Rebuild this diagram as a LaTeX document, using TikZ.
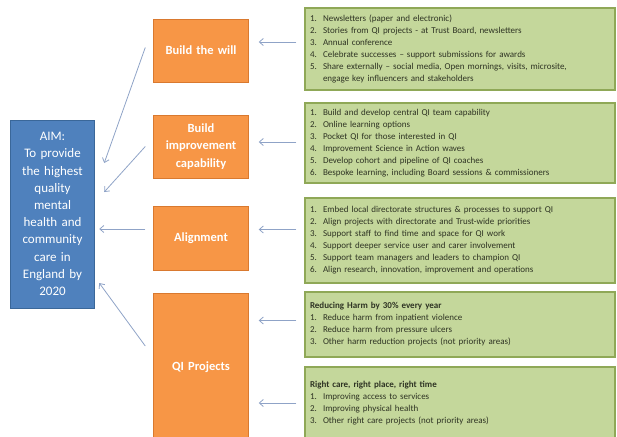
\documentclass[tikz,border=0pt]{standalone}
\usepackage{fontspec}
\setmainfont{Carlito}
\usepackage{tikz}
\usetikzlibrary{arrows.meta,calc}

\definecolor{aimblue}{HTML}{4F81BD}
\definecolor{aimline}{HTML}{3A6799}
\definecolor{drvorange}{HTML}{F79646}
\definecolor{drvline}{HTML}{D9792F}
\definecolor{actgreen}{HTML}{C4D79B}
\definecolor{actline}{HTML}{8FA857}
\definecolor{edgeblue}{HTML}{8FA3C7}
\definecolor{acttext}{HTML}{2E3323}

\begin{document}
\begin{tikzpicture}[x=1pt,y=-1pt]
        \tikzset{aim/.style = {shape=rectangle,draw=aimline,fill=aimblue,text=white,line width=0.8pt,
            minimum width=81pt,minimum height=188pt,text width=78pt,align=center,
            font=\fontsize{13}{17.2}\selectfont}}
        \tikzset{driver/.style = {shape=rectangle,draw=drvline,fill=drvorange,text=white,line width=0.8pt,
            minimum width=94pt,text width=88pt,align=center,font=\bfseries\fontsize{12.5}{17.5}\selectfont}}
        \tikzset{action/.style = {shape=rectangle,draw=actline,fill=actgreen,text=acttext,line width=1.2pt,
            text width=300pt,inner xsep=5pt,align=left,font=\fontsize{9}{12}\selectfont}}
        \tikzset{edge/.style = {->,> = {Straight Barb[length=4pt,width=7pt]},draw=edgeblue,line width=0.8pt}}

        \useasboundingbox (0,0) rectangle (617,436);

        % aim
        \node[aim] (aim) at (52.5,214) {AIM:\\To provide\\the highest\\quality\\mental\\health and\\community\\care in\\England by\\2020};

        % drivers
        \node[driver, minimum height=63pt] (o1) at (201,50.5) {Build the will};
        \node[driver, minimum height=63pt] (o2) at (201,146.5) {Build\\improvement\\capability};
        \node[driver, minimum height=64pt] (o3) at (201,238) {Alignment};
        \node[driver, minimum height=148pt] (o4) at (201,367) {QI Projects};

        % actions
        \node[action, minimum height=82pt] (g1) at (460,49) {\begin{tabular}{@{}p{13pt}@{}l@{}}
            1. & Newsletters (paper and electronic)\\
            2. & Stories from QI projects - at Trust Board, newsletters\\
            3. & Annual conference\\
            4. & Celebrate successes -- support submissions for awards\\
            5. & Share externally -- social media, Open mornings, visits, microsite,\\
               & engage key influencers and stakeholders
        \end{tabular}};
        \node[action, minimum height=80pt] (g2) at (460,143) {\begin{tabular}{@{}p{13pt}@{}l@{}}
            1. & Build and develop central QI team capability\\
            2. & Online learning options\\
            3. & Pocket QI for those interested in QI\\
            4. & Improvement Science in Action waves\\
            5. & Develop cohort and pipeline of QI coaches\\
            6. & Bespoke learning, including Board sessions \& commissioners
        \end{tabular}};
        \node[action, minimum height=85pt] (g3) at (460,240.5) {\begin{tabular}{@{}p{13pt}@{}l@{}}
            1. & Embed local directorate structures \& processes to support QI\\
            2. & Align projects with directorate and Trust-wide priorities\\
            3. & Support staff to find time and space for QI work\\
            4. & Support deeper service user and carer involvement\\
            5. & Support team managers and leaders to champion QI\\
            6. & Align research, innovation, improvement and operations
        \end{tabular}};
        \node[action, minimum height=65pt] (g4) at (460,324.5) {\begin{tabular}{@{}p{13pt}@{}l@{}}
            \multicolumn{2}{@{}l@{}}{\bfseries Reducing Harm by 30\% every year}\\
            1. & Reduce harm from inpatient violence\\
            2. & Reduce harm from pressure ulcers\\
            3. & Other harm reduction projects (not priority areas)
        \end{tabular}};
        \node[action, minimum height=72pt] (g5) at (460,403) {\begin{tabular}{@{}p{13pt}@{}l@{}}
            \multicolumn{2}{@{}l@{}}{\bfseries Right care, right place, right time}\\
            1. & Improving access to services\\
            2. & Improving physical health\\
            3. & Other right care projects (not priority areas)
        \end{tabular}};

        %edges
        \foreach \g/\o/\dy in {g1/o1/-7, g2/o2/-1, g3/o3/-11, g4/o4/-4, g5/o4/0}
            \draw[edge] ($(\g.west)+(-8,\dy)$) -- ($(\g.west -| \o.east)+(10,\dy)$);

        \draw[edge] ($(o1.west)+(-8,-3)$) -- ($(aim.east)+(9,-51)$);
        \draw[edge] ($(o2.west)+(-8,0)$) -- ($(aim.east)+(9,-22)$);
        \draw[edge] ($(o3.west)+(-8,-9)$) -- ($(aim.east)+(4,15)$);
        \draw[edge] ($(o4.west)+(-8,-21)$) -- ($(aim.east)+(4,69)$);

    \end{tikzpicture}
\end{document}
